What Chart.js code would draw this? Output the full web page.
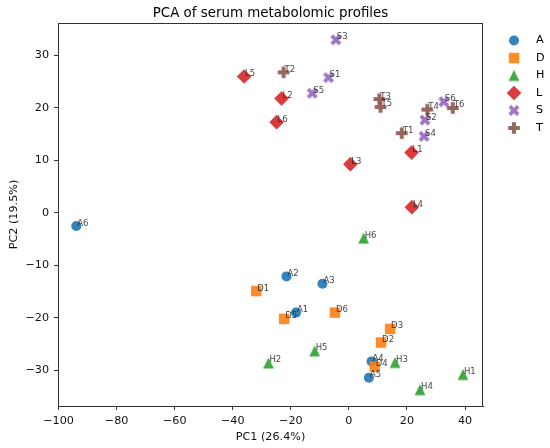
<!DOCTYPE html>
<html>
<head>
<meta charset="utf-8">
<script src="https://cdn.jsdelivr.net/npm/chart.js@4/dist/chart.umd.min.js"></script>
<style>
html, body { margin: 0; padding: 0; background: #fff; }
#pca { display: block; }
</style>
</head>
<body>
<canvas id="pca" width="550" height="448"></canvas>
<script>
var groups = ['A', 'D', 'H', 'L', 'S', 'T'];
var colors = ['rgba(31,119,180,0.9)', 'rgba(255,127,14,0.9)', 'rgba(44,160,44,0.9)',
              'rgba(214,39,40,0.9)', 'rgba(148,103,189,0.9)', 'rgba(140,86,75,0.9)'];

// PC1 / PC2 scores per group, samples 1..6
var pc1A = [-18.2, -21.5, -9.1, 7.8, 6.9, -93.9];
var pc2A = [-19.0, -12.1, -13.5, -28.3, -31.4, -2.5];
var pc1D = [-31.9, 11.1, 14.2, 8.9, -22.3, -4.8];
var pc2D = [-14.9, -24.7, -22.1, -29.3, -20.2, -19.0];
var pc1H = [39.3, -27.7, 15.9, 24.5, -11.8, 5.1];
var pc2H = [-30.8, -28.6, -28.5, -33.7, -26.3, -4.8];
var pc1L = [21.6, -23.2, 0.5, 21.7, -36.1, -24.9];
var pc2L = [11.5, 21.8, 9.3, 1.1, 26.0, 17.3];
var pc1S = [-7.0, 26.2, -4.5, 25.9, -12.6, 32.7];
var pc2S = [25.8, 17.7, 33.0, 14.6, 22.8, 21.2];
var pc1T = [18.2, -22.5, 10.5, 27.0, 10.9, 35.8];
var pc2T = [15.2, 26.8, 21.7, 19.7, 20.2, 20.0];

var xTicks = [-100, -80, -60, -40, -20, 0, 20, 40];
var yTicks = [-30, -20, -10, 0, 10, 20, 30];

var pc1 = [pc1A, pc1D, pc1H, pc1L, pc1S, pc1T];
var pc2 = [pc2A, pc2D, pc2H, pc2L, pc2S, pc2T];

Chart.defaults.font.family = 'DejaVu Sans';

// filled triangle / X / plus like matplotlib '^', 'X', 'P'
function markerCanvas(kind, color) {
    var c = document.createElement('canvas');
    c.width = 14;
    c.height = 14;
    var ctx = c.getContext('2d');
    ctx.translate(7, 7);
    ctx.fillStyle = color;
    ctx.beginPath();
    if (kind == 'triangle') {
        ctx.moveTo(0, -5.4);
        ctx.lineTo(5.4, 5.4);
        ctx.lineTo(-5.4, 5.4);
    } else {
        var u = 1.95;
        if (kind == 'x') ctx.rotate(Math.PI / 4);
        var pts = [[-1,-3],[1,-3],[1,-1],[3,-1],[3,1],[1,1],[1,3],[-1,3],[-1,1],[-3,1],[-3,-1],[-1,-1]];
        pts.forEach(function(p, i) {
            if (i == 0) ctx.moveTo(p[0] * u, p[1] * u);
            else ctx.lineTo(p[0] * u, p[1] * u);
        });
    }
    ctx.closePath();
    ctx.fill();
    return c;
}

var styles = [
    {style: 'circle', r: 5},
    {style: 'rect', r: 7.4},
    {style: markerCanvas('triangle', colors[2]), r: 6},
    {style: 'rectRot', r: 7.3},
    {style: markerCanvas('x', colors[4]), r: 6},
    {style: markerCanvas('plus', colors[5]), r: 6}
];

var datasets = [];
for (var g = 0; g < groups.length; g++) {
    var pts = [];
    for (var i = 0; i < pc1[g].length; i++) {
        pts.push({x: pc1[g][i], y: pc2[g][i], id: groups[g] + (i + 1)});
    }
    datasets.push({
        label: groups[g],
        data: pts,
        order: groups.length - g,
        pointStyle: styles[g].style,
        pointRadius: styles[g].r,
        pointHoverRadius: styles[g].r,
        backgroundColor: colors[g],
        borderColor: colors[g],
        borderWidth: 0,
        showLine: false
    });
}

var extras = {
    id: 'extras',
    afterDatasetsDraw: function(chart) {
        var ctx = chart.ctx;
        ctx.save();
        ctx.font = '8.5px "DejaVu Sans"';
        ctx.fillStyle = 'rgba(30,30,30,0.85)';
        ctx.textAlign = 'left';
        ctx.textBaseline = 'alphabetic';
        chart.data.datasets.forEach(function(ds, di) {
            var meta = chart.getDatasetMeta(di);
            meta.data.forEach(function(el, k) {
                ctx.fillText(ds.data[k].id, el.x + 1, el.y - 0.5);
            });
        });
        ctx.restore();
    },
    afterDraw: function(chart) {
        var ctx = chart.ctx;
        var a = chart.chartArea;
        ctx.save();
        // frame
        ctx.strokeStyle = '#333';
        ctx.lineWidth = 1;
        ctx.strokeRect(Math.round(a.left) + 0.5, Math.round(a.top) + 0.5,
                       Math.round(a.right - a.left) - 1, Math.round(a.bottom - a.top));
        // title
        ctx.fillStyle = '#000';
        ctx.font = '13.4px "DejaVu Sans"';
        ctx.textAlign = 'center';
        ctx.textBaseline = 'alphabetic';
        ctx.fillText('PCA of serum metabolomic profiles', (a.left + a.right) / 2, 16.5);
        // legend
        ctx.font = '11.2px "DejaVu Sans"';
        ctx.textAlign = 'left';
        ctx.textBaseline = 'middle';
        for (var g = 0; g < groups.length; g++) {
            var y = 40.5 + 17.5 * g;
            ctx.fillStyle = colors[g];
            Chart.helpers.drawPoint(ctx, {pointStyle: styles[g].style, radius: styles[g].r, borderWidth: 0, rotation: 0}, 514, y);
            ctx.fillStyle = '#000';
            ctx.fillText(groups[g], 536, y);
        }
        ctx.restore();
    }
};

function minus(v) {
    return String(v).replace('-', '\u2212');
}

new Chart(document.getElementById('pca'), {
    type: 'scatter',
    data: {datasets: datasets},
    plugins: [extras],
    options: {
        responsive: false,
        animation: false,
        devicePixelRatio: 1,
        layout: {padding: {top: 23, right: 67, bottom: 0, left: 0}},
        plugins: {
            legend: {display: false},
            tooltip: {enabled: false},
            title: {display: false}
        },
        scales: {
            x: {
                type: 'linear',
                position: 'bottom',
                min: -100.2,
                max: 46.2,
                afterFit: function(s) { s.height = 42; },
                afterBuildTicks: function(s) { s.ticks = xTicks.map(function(v) { return {value: v}; }); },
                grid: {drawOnChartArea: false, drawTicks: true, tickLength: 4, color: '#333'},
                border: {display: true, color: '#333'},
                ticks: {font: {size: 11.2}, color: '#111', padding: 4, maxRotation: 0, callback: minus},
                title: {display: true, text: 'PC1 (26.4%)', font: {size: 11.2}, color: '#111', padding: {top: 0, bottom: 4}}
            },
            y: {
                type: 'linear',
                position: 'left',
                min: -36.8,
                max: 36.2,
                afterFit: function(s) { s.width = 58; },
                afterBuildTicks: function(s) { s.ticks = yTicks.map(function(v) { return {value: v}; }); },
                grid: {drawOnChartArea: false, drawTicks: true, tickLength: 4, color: '#333'},
                border: {display: true, color: '#333'},
                ticks: {font: {size: 11.2}, color: '#111', padding: 5, callback: minus},
                title: {display: true, text: 'PC2 (19.5%)', font: {size: 11.2}, color: '#111', padding: {top: 7.4, bottom: 0}}
            }
        }
    }
});
</script>
</body>
</html>
